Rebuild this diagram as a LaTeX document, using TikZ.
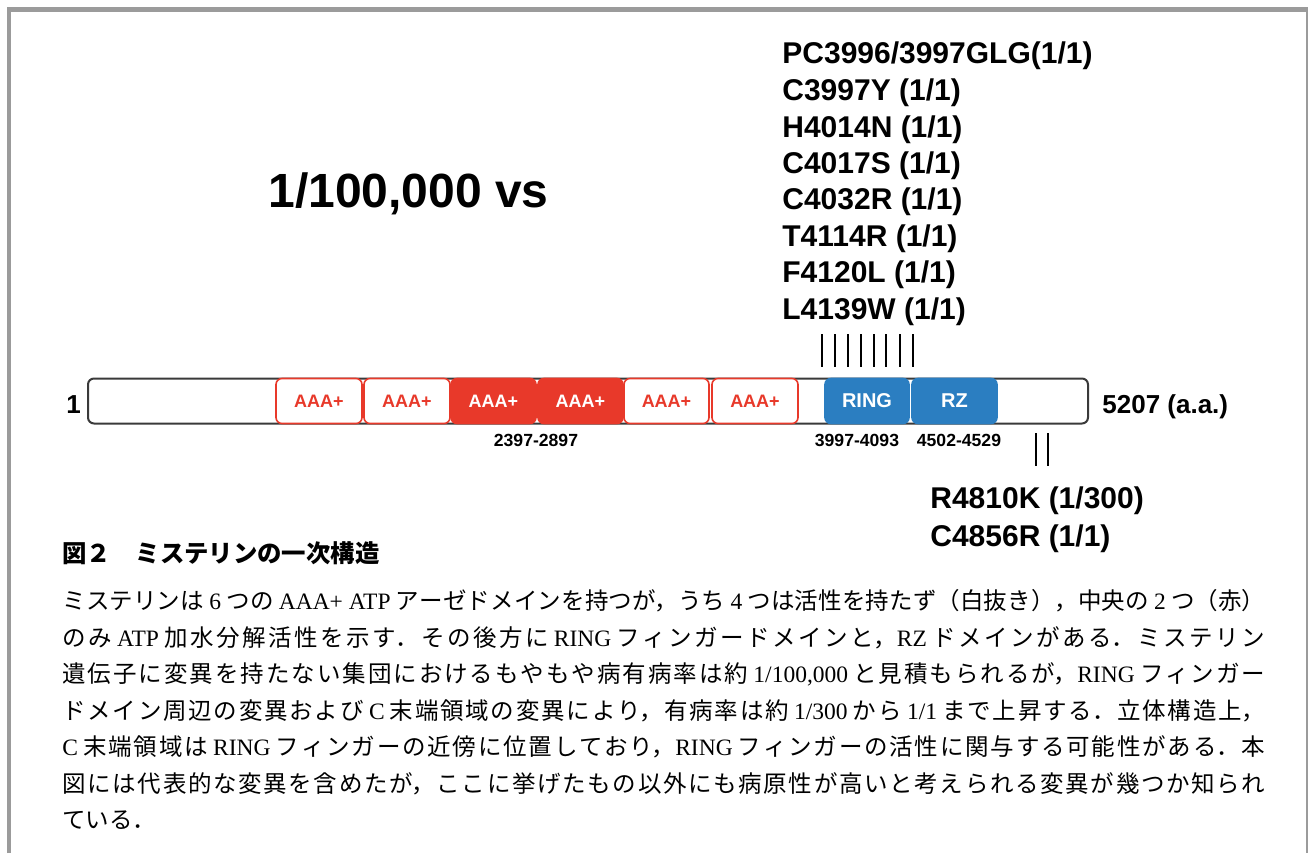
\documentclass[tikz,border=0pt]{standalone}
\usepackage{fontspec}
\setmainfont{Liberation Serif}
\setsansfont{Liberation Sans}
\newfontfamily\jp{Noto Sans CJK JP}
\newfontfamily\lserif{Liberation Serif}
\newcommand\latn[1]{{\lserif #1}}
\definecolor{aaared}{HTML}{E8392A}
\definecolor{ringblue}{HTML}{2B7EC1}
\definecolor{framegray}{HTML}{9B9B9B}
\definecolor{bardark}{HTML}{3A3A3A}
\tikzset{
  protbar/.style={draw=bardark, line width=1pt, rounded corners=3pt, fill=white,
    minimum width=500pt, minimum height=22.5pt, inner sep=0pt},
  dombox/.style={rounded corners=3pt, line width=0.8pt, minimum height=22.5pt,
    inner sep=0pt, font=\sffamily\bfseries\fontsize{9}{11}\selectfont},
  aaaw/.style={dombox, draw=aaared, fill=white, text=aaared},
  aaaf/.style={dombox, draw=aaared, fill=aaared, text=white},
  ringf/.style={dombox, draw=ringblue, fill=ringblue, text=white,
    font=\sffamily\bfseries\fontsize{10}{12}\selectfont},
  mutlabel/.style={anchor=base west, inner sep=0pt,
    font=\sffamily\bfseries\fontsize{15}{18}\selectfont},
  rangelabel/.style={anchor=base, inner sep=0pt,
    font=\sffamily\bfseries\fontsize{8.8}{10}\selectfont},
  endlabel/.style={anchor=base west, inner sep=0pt,
    font=\sffamily\bfseries\fontsize{13}{15}\selectfont},
  tickline/.style={line width=1pt, black},
}
\begin{document}
\begin{tikzpicture}[x=0.5pt,y=-0.5pt]
\useasboundingbox (0,0) rectangle (1308,853);
% frame
\draw[framegray, line width=2.2pt] (9.2,853) -- (9.2,9.5) -- (1308,9.5);
\draw[framegray, line width=1pt] (1306.8,9.5) -- (1306.8,853);

% big ratio
\node[anchor=base west, inner sep=0pt, font=\sffamily\bfseries\fontsize{24}{28}\selectfont] (ratio) at (268,207) {1/100,000 vs};

% mutation labels (top)
\node[mutlabel] (m1) at (782,63) {PC3996/3997GLG(1/1)};
\node[mutlabel] (m2) at (782,100) {C3997Y (1/1)};
\node[mutlabel] (m3) at (782,137) {H4014N (1/1)};
\node[mutlabel] (m4) at (782,173) {C4017S (1/1)};
\node[mutlabel] (m5) at (782,209) {C4032R (1/1)};
\node[mutlabel] (m6) at (782,246) {T4114R (1/1)};
\node[mutlabel] (m7) at (782,282) {F4120L (1/1)};
\node[mutlabel] (m8) at (782,319) {L4139W (1/1)};

% ticks above
\foreach \x in {822,835,848,861,874,886,900,913}
  \draw[tickline] (\x,334) -- (\x,367);

% protein bar
\node[protbar] (prot) at (588,401) {};
\node[aaaw, minimum width=43pt] (a1) at (319,401) {AAA+};
\node[aaaw, minimum width=43pt] (a2) at (407,401) {AAA+};
\node[aaaf, minimum width=42.5pt] (a3) at (493.5,401) {AAA+};
\node[aaaf, minimum width=42.5pt] (a4) at (580.5,401) {AAA+};
\node[aaaw, minimum width=42.5pt] (a5) at (666.5,401) {AAA+};
\node[aaaw, minimum width=43pt] (a6) at (755,401) {AAA+};
\node[ringf, minimum width=42pt] (ring) at (867,401) {RING};
\node[ringf, minimum width=42.5pt] (rz) at (954.5,401) {RZ};

% end labels
\node[endlabel] (n1) at (66,413) {1};
\node[endlabel] (nend) at (1102,413) {5207 (a.a.)};

% range labels
\node[rangelabel] (r1) at (536,446) {2397-2897};
\node[rangelabel] (r2) at (857,446) {3997-4093};
\node[rangelabel] (r3) at (959,446) {4502-4529};

% ticks below
\foreach \x in {1036,1048}
  \draw[tickline] (\x,433) -- (\x,466);

% mutation labels (bottom)
\node[mutlabel] (m9) at (930,508) {R4810K (1/300)};
\node[mutlabel] (m10) at (930,546) {C4856R (1/1)};

% caption title
\node[anchor=base west, inner sep=0pt, font=\jp\bfseries\fontsize{12.2}{14}\selectfont] (title) at (62,562) {図２　ミステリンの一次構造};

% caption body
\node[anchor=north west, inner sep=0pt, text width=601.5pt, align=justify,
  font=\jp\fontsize{11.75}{18.25}\selectfont] (body) at (62,589) {%
\XeTeXlinebreaklocale "ja"\XeTeXlinebreakskip=0pt plus 1fil\relax
\leftskip=0pt\rightskip=0pt\parindent=0pt%
ミステリンは \latn{6} つの \latn{AAA+ ATP} アーゼドメインを持つが，うち \latn{4} つは活性を持たず（白抜き），中央の \latn{2} つ（赤）\linebreak
のみ \latn{ATP} 加水分解活性を示す．その後方に \latn{RING} フィンガードメインと，\latn{RZ} ドメインがある．ミステリン\linebreak
遺伝子に変異を持たない集団におけるもやもや病有病率は約 \latn{1/100,000} と見積もられるが，\latn{RING} フィンガー\linebreak
ドメイン周辺の変異および \latn{C} 末端領域の変異により，有病率は約 \latn{1/300} から \latn{1/1} まで上昇する．立体構造上，\linebreak
\latn{C} 末端領域は \latn{RING} フィンガーの近傍に位置しており，\latn{RING} フィンガーの活性に関与する可能性がある．本\linebreak
図には代表的な変異を含めたが，ここに挙げたもの以外にも病原性が高いと考えられる変異が幾つか知られ\linebreak
ている．\hskip 0pt plus 1filll\mbox{}};
\end{tikzpicture}
\end{document}
